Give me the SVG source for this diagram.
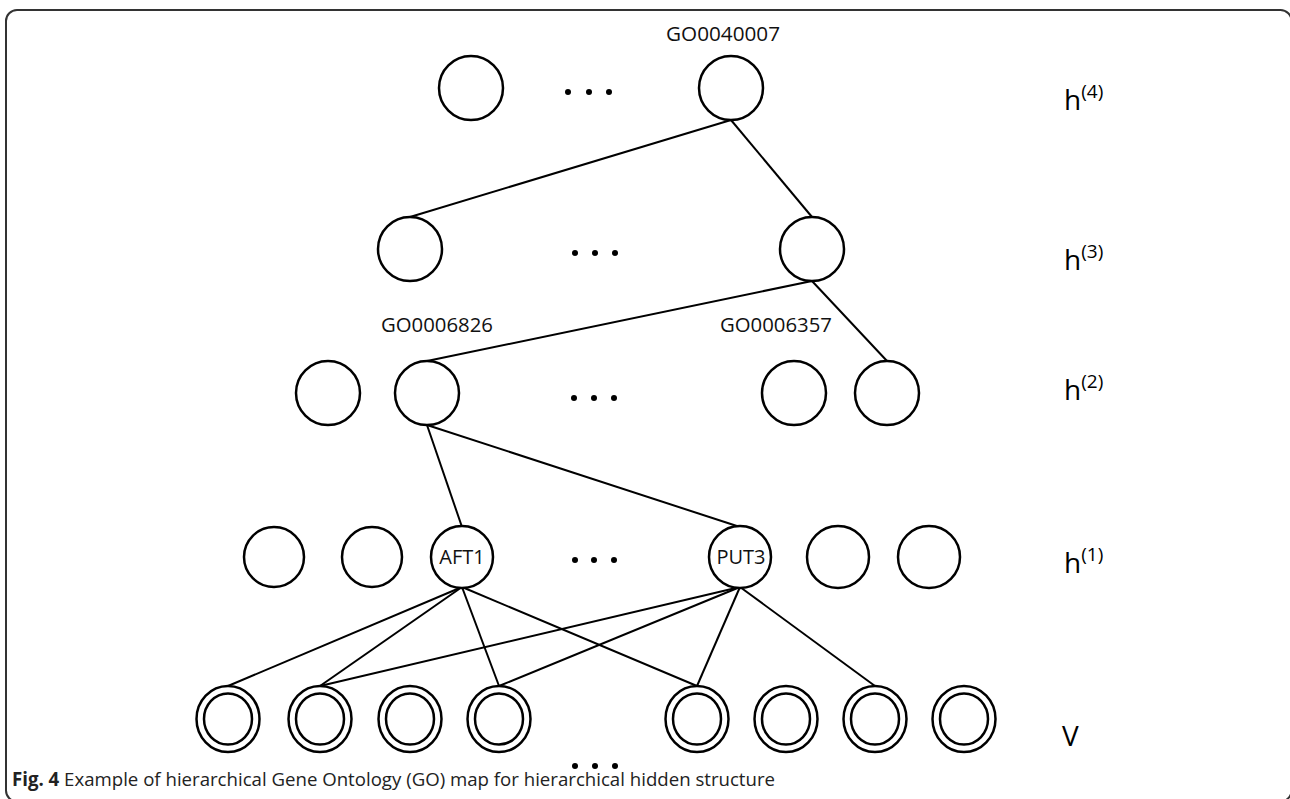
<svg xmlns="http://www.w3.org/2000/svg" width="1290" height="799" viewBox="0 0 1290 799">
<defs>
<style>
.n{fill:#fff;stroke:#000;stroke-width:2.5}
.e{stroke:#000;stroke-width:2;fill:none}
.d{fill:#000}
.lbl{font-family:"Open Sans","Noto Sans",sans-serif;font-size:20px;fill:#111}
.h{font-family:"Open Sans","Noto Sans",sans-serif;font-size:28px;fill:#000}
.sup{font-size:19px}
.cap{font-family:"Open Sans","Noto Sans",sans-serif;font-size:19px;fill:#222}
</style>
<g id="vn">
<ellipse cx="0" cy="0" rx="31.5" ry="33" class="n"/>
<ellipse cx="0" cy="0" rx="24" ry="25.5" class="n"/>
</g>
</defs>
<rect width="1290" height="799" fill="#fff"/>
<rect x="6" y="10" width="1285.5" height="791.5" rx="11" fill="none" stroke="#333" stroke-width="2"/>

<g id="connectors">
<line class="e" x1="731" y1="120" x2="410" y2="217"/>
<line class="e" x1="731" y1="120" x2="812" y2="217"/>
<line class="e" x1="812" y1="281" x2="427" y2="361"/>
<line class="e" x1="812" y1="281" x2="887" y2="361"/>
<line class="e" x1="427" y1="425" x2="462" y2="527"/>
<line class="e" x1="427" y1="425" x2="740" y2="527"/>
<line class="e" x1="462" y1="587" x2="228" y2="686"/>
<line class="e" x1="462" y1="587" x2="320" y2="686"/>
<line class="e" x1="462" y1="587" x2="499" y2="686"/>
<line class="e" x1="462" y1="587" x2="697" y2="686"/>
<line class="e" x1="740" y1="587" x2="320" y2="686"/>
<line class="e" x1="740" y1="587" x2="499" y2="686"/>
<line class="e" x1="740" y1="587" x2="697" y2="686"/>
<line class="e" x1="740" y1="587" x2="875" y2="686"/>
</g>

<g id="h4">
<circle id="h4a" class="n" cx="471" cy="88" r="32"/>
<g id="h4b"><circle class="n" cx="731" cy="88" r="32"/><text class="lbl" x="723" y="41" text-anchor="middle" textLength="114" lengthAdjust="spacingAndGlyphs">GO0040007</text></g>
<circle class="d" cx="568" cy="92" r="3"/><circle class="d" cx="589" cy="92" r="3"/><circle class="d" cx="609" cy="92" r="3"/>
<text class="h" x="1064" y="110">h<tspan class="sup" dy="-12">(4)</tspan></text>
</g>

<g id="h3">
<circle id="h3a" class="n" cx="410" cy="249" r="32"/>
<circle id="h3b" class="n" cx="812" cy="249" r="32"/>
<circle class="d" cx="575" cy="253" r="3"/><circle class="d" cx="595" cy="253" r="3"/><circle class="d" cx="615" cy="253" r="3"/>
<text class="h" x="1064" y="270">h<tspan class="sup" dy="-12">(3)</tspan></text>
</g>

<g id="h2">
<circle id="h2a" class="n" cx="328" cy="393" r="32"/>
<g id="h2b"><circle class="n" cx="427" cy="393" r="32"/><text class="lbl" x="437" y="332" text-anchor="middle" textLength="112" lengthAdjust="spacingAndGlyphs">GO0006826</text></g>
<circle id="h2c" class="n" cx="794" cy="393" r="32"/>
<g id="h2d"><circle class="n" cx="887" cy="393" r="32"/><text class="lbl" x="776" y="332" text-anchor="middle" textLength="112" lengthAdjust="spacingAndGlyphs">GO0006357</text></g>
<circle class="d" cx="574" cy="398" r="3"/><circle class="d" cx="594" cy="398" r="3"/><circle class="d" cx="614" cy="398" r="3"/>
<text class="h" x="1064" y="400">h<tspan class="sup" dy="-12">(2)</tspan></text>
</g>

<g id="h1">
<circle id="h1a" class="n" cx="274" cy="557" r="30"/>
<circle id="h1b" class="n" cx="372" cy="557" r="30"/>
<g id="aft1"><circle class="n" cx="462" cy="557" r="31"/><text class="lbl" x="462" y="564" text-anchor="middle" font-size="18">AFT1</text></g>
<g id="put3"><circle class="n" cx="740" cy="557" r="31"/><text class="lbl" x="741" y="564" text-anchor="middle" font-size="18">PUT3</text></g>
<circle id="h1c" class="n" cx="838" cy="557" r="31"/>
<circle id="h1d" class="n" cx="929" cy="557" r="31"/>
<circle class="d" cx="575" cy="560" r="3"/><circle class="d" cx="594" cy="560" r="3"/><circle class="d" cx="614" cy="560" r="3"/>
<text class="h" x="1064" y="573">h<tspan class="sup" dy="-12">(1)</tspan></text>
</g>

<g id="v">
<use href="#vn" x="228" y="719"/>
<use href="#vn" x="320" y="719"/>
<use href="#vn" x="410" y="719"/>
<use href="#vn" x="499" y="719"/>
<use href="#vn" x="697" y="719"/>
<use href="#vn" x="786" y="719"/>
<use href="#vn" x="875" y="719"/>
<use href="#vn" x="964" y="719"/>
<circle class="d" cx="575" cy="766" r="3"/><circle class="d" cx="595" cy="766" r="3"/><circle class="d" cx="615" cy="766" r="3"/>
<text class="h" x="1062" y="746">V</text>
</g>

<g id="caption">
<text class="cap" x="12" y="786" textLength="763" lengthAdjust="spacingAndGlyphs"><tspan font-weight="bold">Fig. 4</tspan> Example of hierarchical Gene Ontology (GO) map for hierarchical hidden structure</text>
</g>
</svg>
